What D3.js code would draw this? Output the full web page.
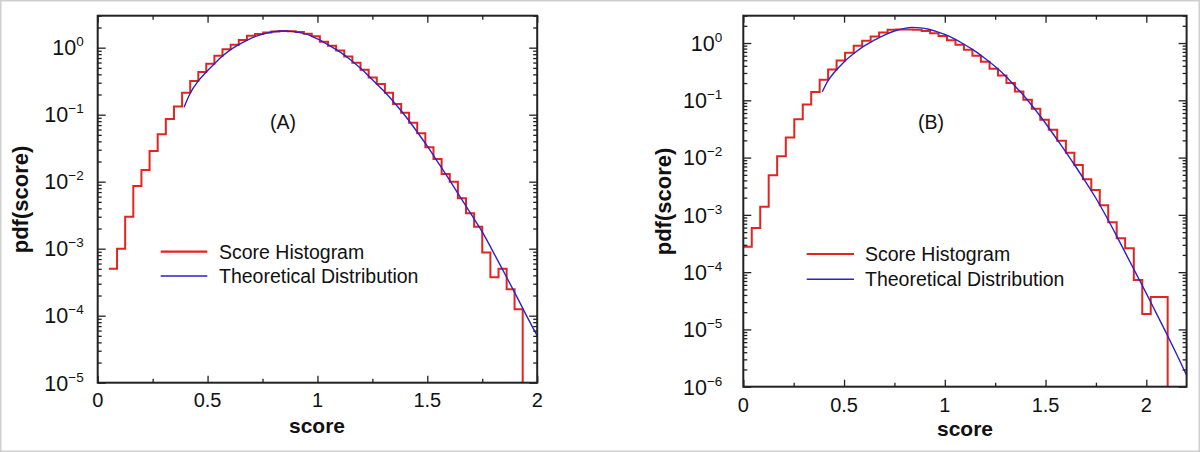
<!DOCTYPE html>
<html><head><meta charset="utf-8">
<script src="https://cdn.jsdelivr.net/npm/d3@7"></script>
<style>body{margin:0;background:#fff}svg{display:block}</style>
</head><body>
<svg id="chart" width="1200" height="452"></svg>
<script>
// ---------- Panel A data ----------
const edgesA = [0.051,0.088,0.125,0.162,0.199,0.236,0.273,0.310,0.347,0.384,0.421,0.458,0.494,0.531,0.568,0.605,0.642,0.679,0.716,0.753,0.790,0.827,0.864,0.901,0.938,0.974,1.011,1.048,1.085,1.122,1.159,1.196,1.233,1.270,1.307,1.344,1.381,1.417,1.454,1.491,1.528,1.565,1.602,1.639,1.676,1.713,1.750,1.787,1.824,1.861,1.897,1.934];
const histA = [5.0e-4,1.0e-3,3.0e-3,8.6e-3,1.5e-2,2.87e-2,5.1e-2,8.6e-2,0.133,0.213,0.318,0.434,0.577,0.76,0.946,1.11,1.30,1.50,1.60,1.68,1.74,1.77,1.76,1.71,1.62,1.48,1.23,1.07,0.91,0.74,0.596,0.468,0.36,0.287,0.213,0.144,0.107,0.076,0.0528,0.0326,0.0218,0.0130,0.0100,5.65e-3,3.38e-3,2.13e-3,8.8e-4,3.74e-4,5.0e-4,2.48e-4,1.25e-4];
const curveAx = [0.393,0.421,0.457,0.494,0.531,0.568,0.605,0.642,0.679,0.716,0.76,0.80,0.84,0.88,0.92,0.96,1.00,1.05,1.10,1.15,1.20,1.25,1.30,1.35,1.40,1.45,1.50,1.55,1.60,1.65,1.70,1.75,1.80,1.85,1.90,1.95,2.00];
const curveAy = [0.129,0.209,0.316,0.432,0.575,0.750,0.933,1.109,1.288,1.462,1.622,1.730,1.770,1.750,1.679,1.549,1.349,1.096,0.871,0.661,0.479,0.331,0.229,0.151,0.0955,0.0575,0.0339,0.0191,0.0107,5.89e-3,3.24e-3,1.78e-3,8.91e-4,4.37e-4,2.14e-4,1.02e-4,5.01e-5];

// ---------- Panel B data ----------
const edgesB = [0,0.042,0.084,0.126,0.168,0.211,0.253,0.295,0.337,0.379,0.421,0.463,0.505,0.548,0.590,0.632,0.674,0.716,0.758,0.800,0.842,0.885,0.927,0.969,1.011,1.053,1.095,1.137,1.179,1.222,1.264,1.306,1.348,1.390,1.432,1.474,1.516,1.558,1.601,1.643,1.685,1.727,1.769,1.811,1.853,1.895,1.938,1.980,2.022,2.064,2.106];
const histB = [2.78e-4,5.9e-4,1.39e-3,4.9e-3,0.0106,0.0224,0.0469,0.0845,0.139,0.228,0.346,0.497,0.676,0.897,1.10,1.30,1.53,1.71,1.72,1.72,1.70,1.62,1.48,1.32,1.12,0.93,0.76,0.60,0.47,0.355,0.27,0.20,0.143,0.102,0.071,0.0456,0.0305,0.0196,0.0122,7.4e-3,4.2e-3,2.72e-3,1.47e-3,7.4e-4,3.9e-4,2.6e-4,7.3e-5,1.85e-5,3.7e-5,3.7e-5];
const curveBx = [0.392,0.42,0.45,0.50,0.55,0.60,0.65,0.70,0.75,0.80,0.836,0.88,0.92,0.96,1.00,1.05,1.10,1.15,1.20,1.25,1.30,1.35,1.40,1.45,1.50,1.55,1.60,1.65,1.70,1.75,1.80,1.85,1.90,1.95,2.00,2.05,2.10,2.15,2.20];
const curveBy = [0.141,0.219,0.302,0.468,0.661,0.891,1.122,1.380,1.622,1.799,1.875,1.841,1.738,1.585,1.413,1.175,0.933,0.724,0.537,0.389,0.269,0.174,0.112,0.0676,0.0398,0.0224,0.0126,6.92e-3,3.72e-3,1.95e-3,9.55e-4,4.47e-4,2.04e-4,9.33e-5,4.27e-5,1.91e-5,8.51e-6,3.72e-6,1.58e-6];

// ---------- Tick labels ----------
const xTickLabelsA = ["0","0.5","1","1.5","2"];
const xTickLabelsB = ["0","0.5","1","1.5","2"];
const yExponentsA = [0,-1,-2,-3,-4,-5];
const yExponentsB = [0,-1,-2,-3,-4,-5,-6];
const legendLabels = ["Score Histogram","Theoretical Distribution"];
const panelLabels = ["(A)","(B)"];

const FONT = "'Liberation Sans', Arial, Helvetica, sans-serif";
const RED = "#e3241f", BLUE = "#2a22cc", AXIS = "#222";

const svg = d3.select("#chart");
svg.append("rect").attr("x",0.75).attr("y",0.75).attr("width",1198.5).attr("height",450.5)
  .attr("fill","#fff").attr("stroke","#cfcfcf").attr("stroke-width",1.5);

function panel(o){
  const g = svg.append("g");
  const x = d3.scaleLinear().domain([0,o.xmax]).range([o.x0,o.x1]);
  const y = d3.scaleLog().domain([o.ymin,3]).range([o.y1,o.y0]);
  const id = "clip"+o.key;
  svg.append("clipPath").attr("id",id).append("rect")
    .attr("x",o.x0).attr("y",o.y0).attr("width",o.x1-o.x0).attr("height",o.y1-o.y0);

  // histogram steps
  const pts = o.hist.map((v,i)=>[o.edges[i],v]);
  pts.push([o.edges[o.hist.length], o.hist[o.hist.length-1]]);
  pts.push([o.edges[o.hist.length], o.ymin]);
  const stepLine = d3.line().x(d=>x(d[0])).y(d=>y(d[1])).curve(d3.curveStepAfter);
  g.append("path").attr("d",stepLine(pts)).attr("fill","none").attr("stroke",RED)
    .attr("stroke-width",2).attr("clip-path",`url(#${id})`);

  // theoretical curve
  const cpts = o.cx.map((v,i)=>[v,o.cy[i]]);
  const cl = d3.line().x(d=>x(d[0])).y(d=>y(d[1])).curve(d3.curveMonotoneX);
  g.append("path").attr("d",cl(cpts)).attr("fill","none").attr("stroke",BLUE)
    .attr("stroke-width",1.4).attr("clip-path",`url(#${id})`);

  // axes ticks (inward)
  const xMinor = d3.range(0, o.xmax+1e-9, 0.25).filter(v=>Math.abs(v*2-Math.round(v*2))>1e-6);
  const xMajor = d3.range(0, o.xmax+1e-9, 0.5);
  const yMajor = o.exps.map(e=>Math.pow(10,e));
  const yMinor = y.ticks().filter(v=>!yMajor.some(m=>Math.abs(m/v-1)<1e-6));
  const styleAxis = sel=>{ sel.select(".domain").remove(); sel.selectAll("line").attr("stroke",AXIS).attr("stroke-width",1.3); sel.selectAll("text").remove(); };

  g.append("g").attr("transform",`translate(0,${o.y1})`).call(d3.axisBottom(x).tickValues(xMajor).tickSize(-7)).call(styleAxis);
  g.append("g").attr("transform",`translate(0,${o.y1})`).call(d3.axisBottom(x).tickValues(xMinor).tickSize(-4)).call(styleAxis);
  g.append("g").attr("transform",`translate(0,${o.y0})`).call(d3.axisTop(x).tickValues(xMajor).tickSize(-7)).call(styleAxis);
  g.append("g").attr("transform",`translate(0,${o.y0})`).call(d3.axisTop(x).tickValues(xMinor).tickSize(-4)).call(styleAxis);
  g.append("g").attr("transform",`translate(${o.x0},0)`).call(d3.axisLeft(y).tickValues(yMajor).tickSize(-8)).call(styleAxis);
  g.append("g").attr("transform",`translate(${o.x0},0)`).call(d3.axisLeft(y).tickValues(yMinor).tickSize(-4)).call(styleAxis);
  g.append("g").attr("transform",`translate(${o.x1},0)`).call(d3.axisRight(y).tickValues(yMajor).tickSize(-8)).call(styleAxis);
  g.append("g").attr("transform",`translate(${o.x1},0)`).call(d3.axisRight(y).tickValues(yMinor).tickSize(-4)).call(styleAxis);

  g.append("rect").attr("x",o.x0).attr("y",o.y0).attr("width",o.x1-o.x0).attr("height",o.y1-o.y0)
    .attr("fill","none").attr("stroke",AXIS).attr("stroke-width",2);

  // x tick labels
  g.selectAll(".xl").data(xMajor).join("text")
    .attr("x",d=>x(d)).attr("y",o.y1+o.xLabPad).attr("text-anchor","middle")
    .attr("font-family",FONT).attr("font-size",20).attr("fill","#111")
    .text((d,i)=>o.xlabels[i]);

  // y tick labels 10^n
  const yl = g.selectAll(".yl").data(o.exps).join("text")
    .attr("x",o.x0-o.yLabGap).attr("y",d=>y(Math.pow(10,d))+7.8).attr("text-anchor","end")
    .attr("font-family",FONT).attr("font-size",21.5).attr("fill","#111");
  yl.append("tspan").text("10");
  yl.append("tspan").attr("font-size",13.5).attr("dy",-9).text(d=>d===0?"0":"\u2212"+Math.abs(d));

  // axis titles
  g.append("text").attr("transform",`translate(${o.ytX},${o.ytY}) rotate(-90)`).attr("text-anchor","middle")
    .attr("font-family",FONT).attr("font-weight","bold").attr("font-size",22).attr("fill","#111").text("pdf(score)");
  g.append("text").attr("x",o.xtX).attr("y",o.xtY).attr("text-anchor","middle")
    .attr("font-family",FONT).attr("font-weight","bold").attr("font-size",21).attr("fill","#111").text("score");

  // panel label
  g.append("text").attr("x",o.plX).attr("y",o.plY).attr("text-anchor","middle")
    .attr("font-family",FONT).attr("font-size",19.5).attr("fill","#111").text(o.plabel);

  // legend
  const lg = g.append("g");
  [[RED,2.2,o.lgY1],[BLUE,1.6,o.lgY2]].forEach((c,i)=>{
    lg.append("line").attr("x1",o.lgX1).attr("x2",o.lgX2).attr("y1",c[2]).attr("y2",c[2]).attr("stroke",c[0]).attr("stroke-width",c[1]);
    lg.append("text").attr("x",o.lgTX).attr("y",c[2]+7).attr("font-family",FONT).attr("font-size",19.5).attr("fill","#111").text(legendLabels[i]);
  });
}

panel({key:"A", x0:97.7, x1:537.2, y0:15.7, y1:382.7, xmax:2, ymin:1e-5,
  edges:edgesA, hist:histA, cx:curveAx, cy:curveAy, exps:yExponentsA, xlabels:xTickLabelsA,
  xLabPad:24.5, yLabGap:14, ytX:28, ytY:199.5, xtX:317, xtY:433,
  plX:283, plY:128.5, plabel:panelLabels[0],
  lgX1:160.7, lgX2:207.3, lgY1:251.7, lgY2:276, lgTX:219});

panel({key:"B", x0:743.3, x1:1186.6, y0:15.7, y1:386.7, xmax:2.2, ymin:1e-6,
  edges:edgesB, hist:histB, cx:curveBx, cy:curveBy, exps:yExponentsB, xlabels:xTickLabelsB,
  xLabPad:25.5, yLabGap:21, ytX:671, ytY:201.5, xtX:965, xtY:436,
  plX:931, plY:129, plabel:panelLabels[1],
  lgX1:806.7, lgX2:854, lgY1:254, lgY2:279.3, lgTX:865});
</script>
</body></html>
